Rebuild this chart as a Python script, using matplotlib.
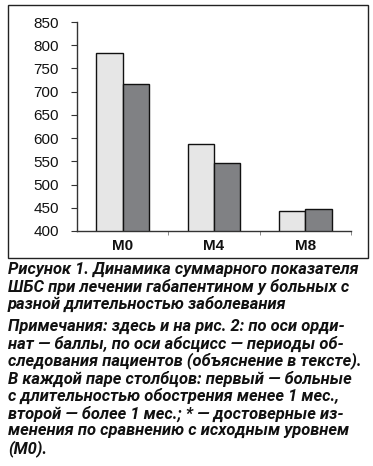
import matplotlib
matplotlib.use("Agg")
import matplotlib.pyplot as plt
from matplotlib.patches import Rectangle
from matplotlib import font_manager
import numpy as np

categories = ["M0", "M4", "M8"]
series_short = [783, 587, 442]   # менее 1 мес.
series_long = [716, 546, 448]    # более 1 мес.
yticks = [400, 450, 500, 550, 600, 650, 700, 750, 800, 850]

caption_title = ["Рисунок 1. Динамика суммарного показателя",
                 "ШБС при лечении габапентином у больных с",
                 "разной длительностью заболевания"]
caption_note = ["Примечания: здесь и на рис. 2: по оси орди-",
                "нат — баллы, по оси абсцисс — периоды об-",
                "следования пациентов (объяснение в тексте).",
                "В каждой паре столбцов: первый — больные",
                "с длительностью обострения менее 1 мес.,",
                "второй — более 1 мес.; * — достоверные из-",
                "менения по сравнению с исходным уровнем",
                "(М0)."]

names = {f.name for f in font_manager.fontManager.ttflist}
cap_font = "Roboto" if "Roboto" in names else "Liberation Sans"

W, H = 373, 466
fig = plt.figure(figsize=(W / 100, H / 100), dpi=100)

# frame around chart
fig.patches.append(Rectangle((8 / W, 1 - 258 / H), 360 / W, 253 / H,
                             transform=fig.transFigure, fill=False,
                             edgecolor="#222222", linewidth=1.0))

ax = fig.add_axes([77 / W, 1 - 231 / H, 274 / W, 209 / H])
x = np.arange(len(categories))
w = 0.29
ax.bar(x - w / 2, series_short, width=w, color="#e6e6e6",
       edgecolor="#111111", linewidth=1.0)
ax.bar(x + w / 2, series_long, width=w, color="#808184",
       edgecolor="#111111", linewidth=1.0)
ax.set_ylim(400, 850)
ax.set_xlim(-0.5, 2.5)
ax.set_yticks(yticks)
ax.set_yticklabels([str(v) for v in yticks], fontsize=11, family="Liberation Sans",
                   color="#111111")
ax.set_xticks(x)
ax.set_xticklabels(categories, fontsize=11, fontweight="bold", family="Liberation Sans",
                   color="#111111")
ax.tick_params(axis="x", length=0, pad=6)
ax.set_xticks([0.5, 1.5, 2.5], minor=True)
ax.tick_params(axis="x", which="minor", length=3, color="#777777")
ax.tick_params(axis="y", length=4, color="#333333", pad=9)
for s in ["top", "right"]:
    ax.spines[s].set_visible(False)
for s in ["left", "bottom"]:
    ax.spines[s].set_color("#333333")
    ax.spines[s].set_linewidth(1.0)

# caption: pick one size so the widest line spans ~354 px
fig.canvas.draw()
renderer = fig.canvas.get_renderer()
probe = fig.text(0, 0, caption_title[0], fontsize=12, fontweight="bold",
                 style="italic", family=cap_font)
all_lines = caption_title + caption_note
widest = 0
for line in all_lines:
    probe.set_text(line)
    widest = max(widest, probe.get_window_extent(renderer).width)
probe.remove()
size = min(13.0, 12 * 354 / widest)

y0 = 269
for i, line in enumerate(caption_title):
    fig.text(8 / W, 1 - (y0 + i * 17.6) / H, line, fontsize=size, fontweight="bold",
             style="italic", family=cap_font, va="center", ha="left", color="#111111")
y1 = 326
for i, line in enumerate(caption_note):
    fig.text(8 / W, 1 - (y1 + i * 17.5) / H, line, fontsize=size, fontweight="bold",
             style="italic", family=cap_font, va="center", ha="left", color="#111111")

fig.savefig("out.png", dpi=100)
